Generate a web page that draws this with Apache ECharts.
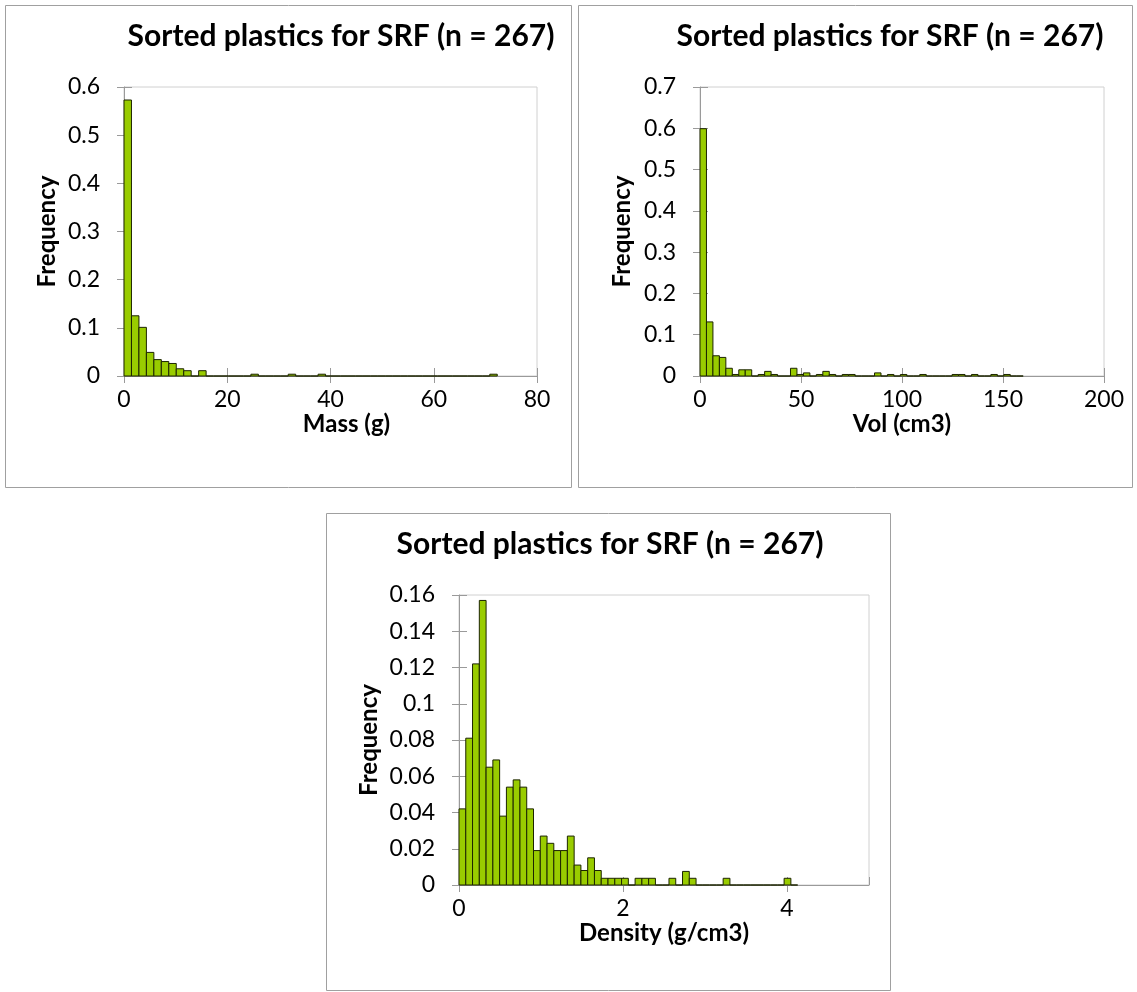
<!DOCTYPE html>
<html>
<head>
<meta charset="utf-8">
<script src="https://cdn.jsdelivr.net/npm/echarts@6/dist/echarts.min.js"></script>
<style>
html, body { margin: 0; background: #fff; }
#chart { width: 1137px; height: 992px; }
</style>
</head>
<body>
<div id="chart"></div>
<script>
// histogram data (50 bins each, frequency = count / 267)
var titleText = 'Sorted plastics for SRF (n = 267)';

var massBinWidth = 1.446;
var massFreq = [0.573, 0.125, 0.101, 0.049, 0.034, 0.030, 0.026, 0.015, 0.011, 0,
    0.011, 0, 0, 0, 0, 0, 0, 0.0037, 0, 0,
    0, 0, 0.0037, 0, 0, 0, 0.0037, 0, 0, 0,
    0, 0, 0, 0, 0, 0, 0, 0, 0, 0,
    0, 0, 0, 0, 0, 0, 0, 0, 0, 0.0037];

var volBinWidth = 3.2;
var volFreq = [0.599, 0.131, 0.049, 0.045, 0.0187, 0.0037, 0.015, 0.015, 0, 0.0037,
    0.0112, 0.0037, 0, 0, 0.0187, 0.0037, 0.0075, 0, 0.0037, 0.0112,
    0.0037, 0, 0.0037, 0.0037, 0, 0, 0, 0.0075, 0, 0.0037,
    0, 0.0037, 0, 0, 0.0037, 0, 0, 0, 0, 0.0037,
    0.0037, 0, 0.0037, 0, 0, 0.0037, 0, 0.0037, 0, 0];

var densBinWidth = 0.0826;
var densFreq = [0.042, 0.081, 0.122, 0.157, 0.065, 0.069, 0.038, 0.054, 0.058, 0.054,
    0.042, 0.019, 0.027, 0.023, 0.019, 0.019, 0.027, 0.011, 0.008, 0.015,
    0.008, 0.0037, 0.0037, 0.0037, 0.0037, 0, 0.0037, 0.0037, 0.0037, 0,
    0, 0.0037, 0, 0.0075, 0.0037, 0, 0, 0, 0, 0.0037,
    0, 0, 0, 0, 0, 0, 0, 0, 0.0037, 0];

var xNames = ['Mass (g)', 'Vol (cm3)', 'Density (g/cm3)'];
var xMax = [80, 200, 5];
var xStep = [20, 50, 2];
var yMax = [0.6, 0.7, 0.16];
var yStep = [0.1, 0.1, 0.02];

var font = 'Lato';
var grey = '#9a9a9a';

// turn frequencies into [start, end, freq] rows
function bins(freq, w) {
    var rows = [];
    for (var i = 0; i < freq.length; i++) {
        rows.push([i * w, (i + 1) * w, freq[i]]);
    }
    return rows;
}

var chart = echarts.init(document.getElementById('chart'));

var grids = [
    {left: 124, top: 87, width: 413, height: 289},
    {left: 700, top: 87, width: 404, height: 289},
    {left: 459, top: 595, width: 410, height: 290}
];
var yNameGap = [65, 66, 78];
var boxes = [[5, 5, 566, 482], [578, 5, 554, 482], [326, 513, 564, 477]];
var titlePos = [[341, 36], [890, 36], [610, 544]];

var xAxes = [], yAxes = [], series = [], graphics = [];
var allBins = [bins(massFreq, massBinWidth), bins(volFreq, volBinWidth), bins(densFreq, densBinWidth)];

for (var g = 0; g < 3; g++) {
    grids[g].show = true;
    grids[g].borderColor = '#d0d0d0';
    grids[g].borderWidth = 1;

    xAxes.push({
        type: 'value', gridIndex: g, position: 'bottom',
        min: 0, max: xMax[g], interval: xStep[g],
        name: xNames[g], nameLocation: 'middle', nameGap: 36,
        nameTextStyle: {fontFamily: font, fontWeight: 'bold', fontSize: 24, color: '#000',
            padding: g === 0 ? [0, 0, 0, 32] : 0},
        axisLine: {lineStyle: {color: grey}},
        axisTick: {length: 7, lineStyle: {color: grey}},
        axisLabel: {margin: 12, fontFamily: font, fontSize: 23, color: '#000', showMaxLabel: g !== 2},
        splitLine: {show: false}
    });
    // second axis only for the inner half of the cross ticks
    xAxes.push({
        type: 'value', gridIndex: g, position: 'bottom',
        min: 0, max: xMax[g], interval: xStep[g],
        axisLine: {show: false},
        axisTick: {inside: true, length: 8, lineStyle: {color: grey}},
        axisLabel: {show: false},
        splitLine: {show: false}
    });
    yAxes.push({
        type: 'value', gridIndex: g, position: 'left',
        min: 0, max: yMax[g], interval: yStep[g],
        name: 'Frequency', nameLocation: 'middle', nameGap: yNameGap[g],
        nameTextStyle: {fontFamily: font, fontWeight: 'bold', fontSize: 24, color: '#000'},
        axisLine: {show: true, lineStyle: {color: grey}},
        axisTick: {show: true, length: 7, lineStyle: {color: grey}},
        axisLabel: {margin: 24, fontFamily: font, fontSize: 23, color: '#000'},
        splitLine: {show: false}
    });
    yAxes.push({
        type: 'value', gridIndex: g, position: 'left',
        min: 0, max: yMax[g], interval: yStep[g],
        axisLine: {show: false},
        axisTick: {show: true, inside: true, length: 8, lineStyle: {color: grey}},
        axisLabel: {show: false},
        splitLine: {show: false}
    });

    series.push({
        type: 'custom',
        xAxisIndex: g * 2,
        yAxisIndex: g * 2,
        data: allBins[g],
        encode: {x: [0, 1], y: 2},
        renderItem: function (params, api) {
            var a = api.coord([api.value(0), api.value(2)]);
            var b = api.coord([api.value(1), 0]);
            return {
                type: 'rect',
                shape: {x: a[0], y: a[1], width: b[0] - a[0], height: b[1] - a[1]},
                style: {fill: '#99cc00', stroke: '#1c2400', lineWidth: 1}
            };
        }
    });

    graphics.push({
        type: 'rect', silent: true, z: -10,
        shape: {x: boxes[g][0] + 0.5, y: boxes[g][1] + 0.5, width: boxes[g][2], height: boxes[g][3]},
        style: {fill: '#fff', stroke: '#a0a0a0', lineWidth: 1}
    });
    graphics.push({
        type: 'text', silent: true,
        x: titlePos[g][0], y: titlePos[g][1],
        style: {text: titleText, fontFamily: font, fontWeight: 'bold', fontSize: 30,
            fill: '#000', align: 'center', verticalAlign: 'middle'}
    });
}

chart.setOption({
    animation: false,
    backgroundColor: '#fff',
    grid: grids,
    xAxis: xAxes,
    yAxis: yAxes,
    series: series,
    graphic: graphics
});
</script>
</body>
</html>
